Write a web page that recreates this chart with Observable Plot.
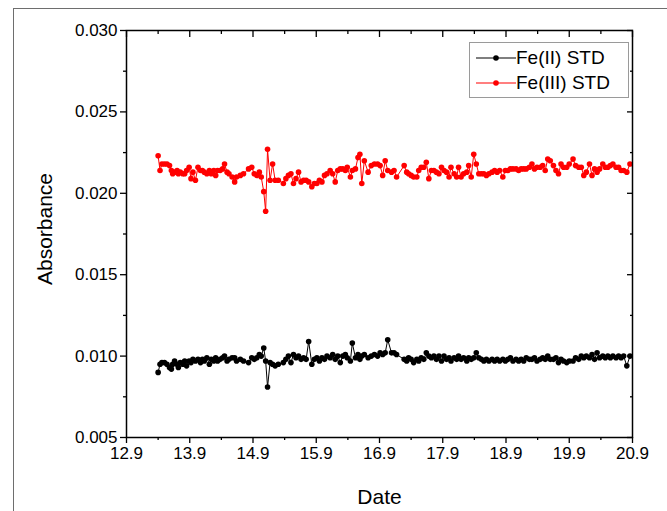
<!DOCTYPE html>
<html><head><meta charset="utf-8">
<script src="https://cdn.jsdelivr.net/npm/d3@7"></script>
<script src="https://cdn.jsdelivr.net/npm/@observablehq/plot@0.6"></script>
<style>
html,body{margin:0;padding:0;background:#fff;overflow:hidden;width:667px;height:511px;}
#border{position:absolute;left:13px;top:8px;width:720px;height:620px;border:1px solid #6e6e6e;box-sizing:border-box;}
#chart{position:absolute;left:0;top:0;}
#legend{position:absolute;left:469px;top:42px;width:160px;height:56px;border:1px solid #9a9a9a;box-sizing:border-box;background:#fff;
  font-family:'Liberation Sans',Arial,sans-serif;font-size:19px;color:#000;padding-top:2px;}
#legend .row{display:flex;align-items:center;height:25px;}
#legend svg{margin-left:6px;margin-right:0px;}
</style></head>
<body>
<div id="border"></div>
<div id="chart"></div>
<div id="legend"></div>
<script>
const dates = [
13.40,13.43,13.46,13.50,13.54,13.58,13.61,13.63,13.66,13.70,
13.72,13.75,13.79,13.82,13.85,13.89,13.92,13.95,13.99,14.03,
14.07,14.10,14.13,14.17,14.21,14.24,14.28,14.31,14.34,14.38,
14.42,14.45,14.49,14.52,14.57,14.61,14.64,14.70,14.75,14.83,
14.88,14.92,14.96,15.00,15.03,15.07,15.10,15.13,15.17,15.21,
15.25,15.30,15.38,15.42,15.46,15.50,15.54,15.58,15.62,15.66,
15.70,15.74,15.78,15.83,15.87,15.91,15.95,15.99,16.03,16.07,
16.12,16.16,16.20,16.24,16.28,16.32,16.36,16.39,16.44,16.47,
16.52,16.56,16.59,16.62,16.66,16.72,16.77,16.82,16.87,16.91,
16.95,16.99,17.03,17.09,
17.13,17.17,17.29,17.33,17.36,17.40,17.44,17.49,17.52,17.56,
17.60,17.64,17.68,17.72,17.76,17.80,17.84,17.88,17.92,17.96,
18.00,18.03,18.08,18.12,18.15,18.19,18.23,18.28,18.31,18.35,
18.39,18.43,18.47,18.51,18.55,18.59,18.63,18.68,18.72,18.76,
18.80,18.85,18.89,18.93,18.97,19.01,19.06,19.10,19.14,19.18,
19.22,19.27,19.31,19.35,19.39,19.44,19.48,19.52,19.56,19.60,
19.65,19.69,19.73,19.77,19.81,19.86,19.90,19.96,20.00,20.05,
20.09,20.13,20.17,20.22,20.26,20.30,20.34,20.38,20.43,20.47,
20.51,20.55,20.59,20.64,20.68,20.72,20.76,20.81,20.86
];
const fe2 = [
0.0090,0.0095,0.0096,0.0096,0.0095,0.0093,0.0092,0.0095,0.0097,0.0095,
0.0093,0.0096,0.0095,0.0097,0.0094,0.0097,0.0096,0.0098,0.0097,0.0098,
0.0096,0.0098,0.0097,0.0099,0.0095,0.0098,0.0097,0.0099,0.0097,0.0098,
0.0099,0.0100,0.0097,0.0098,0.0099,0.0099,0.0097,0.0098,0.0097,0.0096,
0.0099,0.0098,0.0099,0.0101,0.0100,0.0105,0.0097,0.0081,0.0096,0.0095,
0.0094,0.0095,0.0096,0.0098,0.0100,0.0096,0.0101,0.0099,0.0100,0.0098,
0.0099,0.0098,0.0109,0.0095,0.0098,0.0099,0.0097,0.0099,0.0098,0.0100,
0.0099,0.0101,0.0098,0.0100,0.0096,0.0100,0.0101,0.0099,0.0097,0.0108,
0.0099,0.0101,0.0098,0.0100,0.0101,0.0099,0.0100,0.0101,0.0100,0.0102,
0.0101,0.0102,0.0110,0.0102,
0.0102,0.0101,0.0098,0.0097,0.0099,0.0098,0.0096,0.0098,0.0097,0.0099,
0.0098,0.0102,0.0100,0.0099,0.0100,0.0098,0.0100,0.0097,0.0100,0.0098,
0.0099,0.0097,0.0099,0.0098,0.0100,0.0098,0.0099,0.0097,0.0099,0.0098,
0.0099,0.0102,0.0099,0.0098,0.0097,0.0098,0.0097,0.0098,0.0097,0.0098,
0.0097,0.0098,0.0097,0.0098,0.0099,0.0097,0.0098,0.0097,0.0098,0.0097,
0.0099,0.0098,0.0098,0.0099,0.0097,0.0098,0.0099,0.0098,0.0100,0.0098,
0.0098,0.0099,0.0096,0.0098,0.0097,0.0096,0.0097,0.0097,0.0099,0.0098,
0.0100,0.0099,0.0100,0.0099,0.0101,0.0098,0.0102,0.0099,0.0100,0.0099,
0.0100,0.0099,0.0100,0.0099,0.0100,0.0099,0.0100,0.0094,0.0100
];
const fe3 = [
0.0223,0.0214,0.0218,0.0218,0.0218,0.0217,0.0214,0.0212,0.0213,0.0214,
0.0212,0.0213,0.0212,0.0212,0.0214,0.0216,0.0209,0.0213,0.0208,0.0216,
0.0214,0.0214,0.0213,0.0212,0.0214,0.0212,0.0214,0.0211,0.0214,0.0214,
0.0215,0.0218,0.0213,0.0212,0.0210,0.0207,0.0210,0.0211,0.0212,0.0215,
0.0216,0.0212,0.0211,0.0213,0.0210,0.0201,0.0189,0.0227,0.0208,0.0218,
0.0208,0.0208,0.0206,0.0209,0.0211,0.0212,0.0206,0.0209,0.0213,0.0207,
0.0208,0.0208,0.0207,0.0204,0.0206,0.0206,0.0208,0.0207,0.0211,0.0212,
0.0214,0.0212,0.0207,0.0214,0.0215,0.0215,0.0214,0.0216,0.0210,0.0214,
0.0215,0.0222,0.0224,0.0206,0.0220,0.0213,0.0217,0.0218,0.0218,0.0217,
0.0211,0.0220,0.0214,0.0213,
0.0214,0.0210,0.0217,0.0213,0.0212,0.0211,0.0210,0.0210,0.0214,0.0216,
0.0216,0.0219,0.0209,0.0214,0.0214,0.0213,0.0212,0.0216,0.0214,0.0213,
0.0210,0.0216,0.0212,0.0210,0.0216,0.0210,0.0212,0.0213,0.0217,0.0210,
0.0224,0.0218,0.0212,0.0212,0.0212,0.0211,0.0212,0.0213,0.0214,0.0213,
0.0214,0.0210,0.0214,0.0214,0.0215,0.0215,0.0215,0.0214,0.0215,0.0215,
0.0215,0.0216,0.0218,0.0215,0.0216,0.0216,0.0217,0.0214,0.0221,0.0220,
0.0217,0.0214,0.0212,0.0218,0.0216,0.0216,0.0218,0.0221,0.0217,0.0216,
0.0216,0.0211,0.0213,0.0218,0.0211,0.0215,0.0213,0.0215,0.0218,0.0216,
0.0216,0.0217,0.0218,0.0216,0.0216,0.0214,0.0214,0.0213,0.0218
];
const seriesNames = ["Fe(II) STD", "Fe(III) STD"];
const seriesColors = ["#000000", "#ff0000"];
const xTicks = [12.9,13.9,14.9,15.9,16.9,17.9,18.9,19.9,20.9];
const xMinor = [13.4,14.4,15.4,16.4,17.4,18.4,19.4,20.4];
const yTicks = [0.005,0.010,0.015,0.020,0.025,0.030];
const yMinor = [0.0075,0.0125,0.0175,0.0225,0.0275];
const xTitle = "Date";
const yTitle = "Absorbance";

const n = Math.min(dates.length, fe2.length, fe3.length);
const rows = [];
for (let i = 0; i < n; i++) {
  rows.push({date: dates[i], value: fe2[i], series: seriesNames[0]});
}
for (let i = 0; i < n; i++) {
  rows.push({date: dates[i], value: fe3[i], series: seriesNames[1]});
}
const blank = () => "";
const chart = Plot.plot({
  width: 667, height: 511,
  marginLeft: 126, marginRight: 35, marginTop: 30, marginBottom: 74,
  style: {fontFamily: "'Liberation Sans', Arial, sans-serif", fontSize: "17px", color: "#000", background: "transparent", overflow: "visible"},
  x: {domain: [12.9, 20.9]},
  y: {domain: [0.005, 0.030]},
  color: {domain: seriesNames, range: seriesColors},
  marks: [
    Plot.axisX({ticks: xTicks, tickSize: 6, tickPadding: 3, tickFormat: d3.format(".1f"), label: null, strokeWidth: 1.3, fontSize: 17}),
    Plot.axisX({ticks: xMinor, tickSize: 3, tickFormat: blank, label: null, strokeWidth: 1.3}),
    Plot.axisX({anchor: "top", ticks: xTicks, tickSize: 6, dy: 6, tickFormat: blank, label: null, strokeWidth: 1.3}),
    Plot.axisX({anchor: "top", ticks: xMinor, tickSize: 3, dy: 3, tickFormat: blank, label: null, strokeWidth: 1.3}),
    Plot.axisY({ticks: yTicks, tickSize: 6, tickPadding: 3, tickFormat: d3.format(".3f"), label: null, strokeWidth: 1.3, fontSize: 17}),
    Plot.axisY({ticks: yMinor, tickSize: 3, tickFormat: blank, label: null, strokeWidth: 1.3}),
    Plot.axisY({anchor: "right", ticks: yTicks, tickSize: 6, dx: -6, tickFormat: blank, label: null, strokeWidth: 1.3}),
    Plot.axisY({anchor: "right", ticks: yMinor, tickSize: 3, dx: -3, tickFormat: blank, label: null, strokeWidth: 1.3}),
    Plot.text([xTitle], {text: d => d, frameAnchor: "bottom", lineAnchor: "middle", dy: 60, fontSize: 21}),
    Plot.text([yTitle], {text: d => d, frameAnchor: "left", textAnchor: "middle", lineAnchor: "middle", rotate: -90, dx: -81, dy: -5, fontSize: 21}),
    Plot.line(rows, {x: "date", y: "value", z: "series", stroke: "series", strokeWidth: 1}),
    Plot.dot(rows, {x: "date", y: "value", fill: "series", r: 2.8}),
    Plot.frame({stroke: "#000", strokeWidth: 1.5})
  ]
});
document.getElementById("chart").appendChild(chart);

const legend = document.getElementById("legend");
seriesNames.forEach((name, i) => {
  const row = document.createElement("div");
  row.className = "row";
  row.innerHTML = `<svg width="40" height="12"><line x1="0" y1="6" x2="40" y2="6" stroke="${seriesColors[i]}" stroke-width="1.2"/><circle cx="20" cy="6" r="2.8" fill="${seriesColors[i]}"/></svg><span>${name}</span>`;
  legend.appendChild(row);
});
</script>
</body></html>
